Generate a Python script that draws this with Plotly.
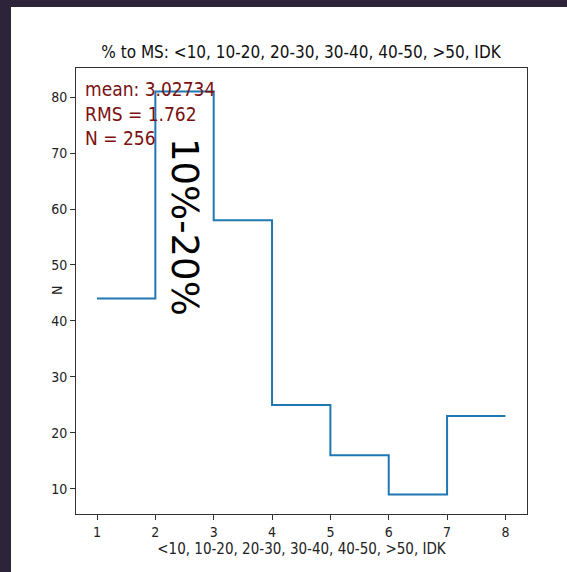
import plotly.graph_objects as go

# data
bin_edges = [1, 2, 3, 4, 5, 6, 7, 8]
counts = [44, 81, 58, 25, 16, 9, 23]
title_text = "% to MS: <10, 10-20, 20-30, 30-40, 40-50, >50, IDK"
xlabel = "<10, 10-20, 20-30, 30-40, 40-50, >50, IDK"
ylabel = "N"
stats_lines = ["mean: 3.02734", "RMS = 1.762", "N = 256"]
big_label = "10%-20%"
x_ticks = [1, 2, 3, 4, 5, 6, 7, 8]
y_ticks = [10, 20, 30, 40, 50, 60, 70, 80]

step_y = counts + [counts[-1]]

FONT = "DejaVu Sans Condensed, DejaVu Sans, sans-serif"
W, H = 567, 572
ml, mr, mt, mb = 76, 40, 68, 58
pw, ph = W - ml - mr, H - mt - mb

fig = go.Figure()
fig.add_trace(go.Scatter(
    x=bin_edges, y=step_y, mode="lines", line_shape="hv",
    line=dict(color="#1f77b4", width=2), showlegend=False, hoverinfo="skip"))

# white panel over dark frame
fig.add_shape(type="rect", xref="paper", yref="paper",
              x0=(11 - ml) / pw, x1=(W + 5 - ml) / pw,
              y0=-(mb + 5) / ph, y1=(H - mb - 7) / ph,
              fillcolor="white", line_width=0, layer="below")

fig.add_annotation(x=0, y=1, xref="paper", yref="paper",
                   xanchor="left", yanchor="top", xshift=7, yshift=-8,
                   text="<br>".join(stats_lines), showarrow=False, align="left",
                   font=dict(family=FONT, size=19, color="#7a1010"))

fig.add_annotation(x=2.49, y=56.8, xref="x", yref="y", text=big_label,
                   textangle=90, showarrow=False,
                   font=dict(family="DejaVu Sans, sans-serif", size=37, color="black"))

fig.add_annotation(x=(57 - ml) / pw, y=0.5, xref="paper", yref="paper",
                   xanchor="center", yanchor="middle",
                   text=ylabel, textangle=-90, showarrow=False,
                   font=dict(family=FONT, size=14, color="#222222"))

axis_common = dict(showgrid=False, zeroline=False, showline=True, mirror=True,
                   linecolor="#333333", linewidth=1, ticks="outside", ticklen=5,
                   tickcolor="#333333", tickfont=dict(family=FONT, size=14, color="#222222"))

fig.update_xaxes(range=[0.64, 8.37], tickvals=x_ticks,
                 title=dict(text=xlabel, font=dict(family=FONT, size=15, color="#222222"), standoff=2),
                 **axis_common)
fig.update_yaxes(range=[5.5, 85.2], tickvals=y_ticks, **axis_common)

fig.update_layout(
    width=W, height=H, margin=dict(l=ml, r=mr, t=mt, b=mb, pad=0),
    paper_bgcolor="#2d2439", plot_bgcolor="white",
    title=dict(text=title_text, x=(301) / W, xanchor="center", y=1 - 52 / H, yanchor="middle",
               font=dict(family=FONT, size=17, color="#111111")),
)

fig.write_html("out.html", config={"displayModeBar": False},
               post_script="document.body.style.margin='0px';document.body.style.background='#2d2439';document.body.style.overflow='hidden';")
